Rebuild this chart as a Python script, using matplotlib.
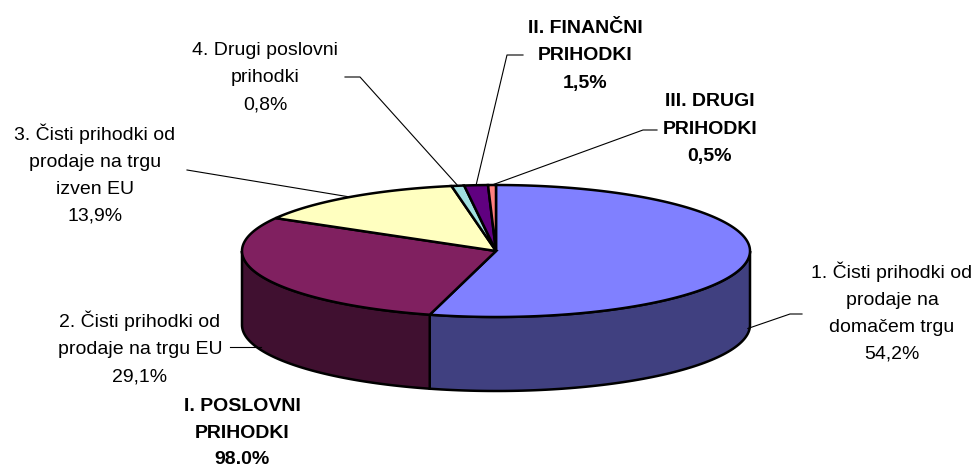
import numpy as np
import matplotlib.pyplot as plt
from matplotlib.patches import Polygon

plt.rcParams['font.family'] = ['Liberation Sans', 'DejaVu Sans']

### Data
labels = ["1. Čisti prihodki od\nprodaje na\ndomačem trgu",
          "2. Čisti prihodki od\nprodaje na trgu EU",
          "3. Čisti prihodki od\nprodaje na trgu\nizven EU",
          "4. Drugi poslovni\nprihodki",
          "II. FINANČNI\nPRIHODKI",
          "III. DRUGI\nPRIHODKI"]
shares = [54.2, 29.1, 13.9, 0.8, 1.5, 0.5]
pct_text = ["54,2%", "29,1%", "13,9%", "0,8%", "1,5%", "0,5%"]
bold = [False, False, False, False, True, True]
group_label = "I. POSLOVNI\nPRIHODKI\n98.0%"

top_colors = ["#8080FF", "#802060", "#FFFFC0", "#A0E0E0", "#600080", "#FF8080"]
side_colors = ["#404080", "#401030", "#808060", "#507070", "#300040", "#804040"]

### Pie geometry (pixels)
cx, cy = 496, 251
a, b = 254, 66
depth = 74

fig = plt.figure(figsize=(9.77, 4.69), dpi=100)
ax = fig.add_axes([0, 0, 1, 1])
ax.set_xlim(0, 977)
ax.set_ylim(469, 0)
ax.axis('off')


def pt(theta, d=0.0):
    # theta in degrees, clockwise from 12 o'clock
    t = np.radians(theta)
    return cx + a * np.sin(t), cy - b * np.cos(t) + d


cum = np.concatenate([[0], np.cumsum(shares)])
angles = 360 * cum / cum[-1]

# side walls (only the front half is visible)
for i in range(len(shares)):
    lo = max(angles[i], 90)
    hi = min(angles[i + 1], 270)
    if hi <= lo:
        continue
    th = np.linspace(lo, hi, 80)
    xs, ys = pt(th)
    top = np.column_stack([xs, ys])
    bot = np.column_stack([xs, ys + depth])[::-1]
    ax.add_patch(Polygon(np.vstack([top, bot]), closed=True, fc=side_colors[i],
                         ec='black', lw=1.8, zorder=2))

# top faces
for i in range(len(shares)):
    th = np.linspace(angles[i], angles[i + 1], 200)
    xs, ys = pt(th)
    verts = np.vstack([[cx, cy], np.column_stack([xs, ys])])
    ax.add_patch(Polygon(verts, closed=True, fc=top_colors[i], ec='black',
                         lw=1.8, zorder=3))

### Labels
text_pos = [(892, 312), (140, 348), (95, 174), (265, 78), (585, 56), (710, 129)]
depth_frac = [0.93, 0.96, 0, 0, 0, 0]
# leader: list of points from label side toward pie
leader_pts = [[(802, 314), (790, 314)],
              [(230, 347)],
              [(187, 170)],
              [(345, 77), (360, 77)],
              [(523, 55), (507, 55)],
              [(657, 130), (643, 130)]]

for i in range(len(shares)):
    mid = (angles[i] + angles[i + 1]) / 2
    ex, ey = pt(mid, depth * depth_frac[i])
    xs = [p[0] for p in leader_pts[i]] + [ex]
    ys = [p[1] for p in leader_pts[i]] + [ey]
    if i == 1:
        ys[-1] = ys[0]
    ax.plot(xs, ys, color='black', lw=0.8, zorder=4)
    ax.text(text_pos[i][0], text_pos[i][1], labels[i] + "\n" + pct_text[i],
            ha='center', va='center', fontsize=14, linespacing=1.77,
            fontweight='bold' if bold[i] else 'normal', color='black', zorder=5)

ax.text(242, 433, group_label, ha='center', va='center', fontsize=14,
        linespacing=1.7, fontweight='bold', color='black')

fig.savefig('out.png', dpi=100)
